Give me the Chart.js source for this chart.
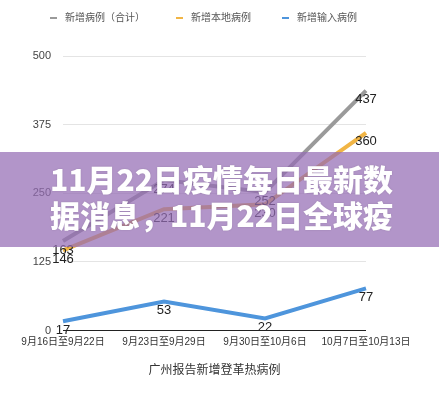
<!DOCTYPE html>
<html>
<head>
<meta charset="utf-8">
<script src="https://cdn.jsdelivr.net/npm/chart.js@4.4.1/dist/chart.umd.min.js"></script>
<style>
  html, body { margin: 0; padding: 0; background: #fff; }
  #wrap { position: relative; width: 439px; height: 400px; overflow: hidden; }
  #chart { position: absolute; left: 0; top: 0; }
  #legend { position: absolute; left: 50px; top: 11px; display: flex; gap: 31px;
    font: 10px "Helvetica Neue", Arial, "Noto Sans CJK SC", sans-serif; color: #555; line-height: 14px; }
  #legend .dash { display: inline-block; width: 7px; height: 2px; margin-right: 8px; vertical-align: middle; }
  #banner { position: absolute; left: 0; top: 152px; width: 439px; height: 95px;
    background: rgba(148, 108, 180, 0.72); box-sizing: border-box; padding: 8px 0 0 50px;
    color: #fff; font: 900 30px "Noto Sans CJK SC", sans-serif; line-height: 36px; white-space: nowrap;
    text-shadow: 0 0 2px rgba(0,0,0,0.15); }
</style>
</head>
<body>
<div id="wrap">
  <canvas id="chart" width="439" height="400"></canvas>
  <div id="legend"></div>
  <div id="banner">11月22日疫情每日最新数<br>据消息，11月22日全球疫</div>
</div>
<script>
// weekly dengue cases reported in Guangzhou
var weeks = ['9月16日至9月22日', '9月23日至9月29日', '9月30日至10月6日', '10月7日至10月13日'];
var totalCases = [163, 274, 252, 437];
var localCases = [146, 221, 230, 360];
var importedCases = [17, 53, 22, 77];
var seriesNames = ['新增病例（合计）', '新增本地病例', '新增输入病例'];
var seriesColors = ['#9a9a9a', '#f1b545', '#4e95dc'];
var yMin = 0, yMax = 500, yStep = 125;

var FONT = '"Helvetica Neue", Arial, "Noto Sans CJK SC", sans-serif';
Chart.defaults.font.family = FONT;

/* ---- value labels under each point ---- */
var valueLabels = {
	id: 'valueLabels',
	afterDatasetsDraw: function (chart) {
		var ctx = chart.ctx;
		ctx.save();
		ctx.font = '13px ' + FONT;
		ctx.fillStyle = '#222';
		ctx.textAlign = 'center';
		ctx.textBaseline = 'middle';
		chart.data.datasets.forEach(function (ds, i) {
			chart.getDatasetMeta(i).data.forEach(function (pt, j) {
				ctx.fillText(ds.data[j], pt.x, pt.y + 9);
			});
		});
		ctx.restore();
	}
};

function lineSet(label, data, color) {
	return {
		label: label,
		data: data,
		borderColor: color,
		backgroundColor: color,
		borderWidth: 4,
		pointRadius: 0,
		tension: 0,
		fill: false
	};
}

var chart = new Chart(document.getElementById('chart'), {
	type: 'line',
	data: {
		labels: weeks,
		datasets: [
			lineSet(seriesNames[0], totalCases, seriesColors[0]),
			lineSet(seriesNames[1], localCases, seriesColors[1]),
			lineSet(seriesNames[2], importedCases, seriesColors[2])
		]
	},
	options: {
		responsive: false,
		animation: false,
		layout: { padding: { top: 56, right: 73, bottom: 22, left: 0 } },
		plugins: {
			legend: { display: false },
			tooltip: { enabled: false }
		},
		scales: {
			x: {
				grid: { display: false, drawTicks: false },
				border: { display: false },
				ticks: { color: '#333', font: { size: 10 }, padding: 6, maxRotation: 0, autoSkip: false },
				title: {
					display: true,
					text: '广州报告新增登革热病例',
					color: '#333',
					font: { size: 12 },
					padding: { top: 9, bottom: 0 }
				}
			},
			y: {
				min: yMin,
				max: yMax,
				afterFit: function (scale) { scale.width = 63; },
				border: { display: false },
				grid: {
					drawTicks: false,
					color: function (c) { return c.tick.value === 0 ? '#222' : '#e4e4e4'; }
				},
				ticks: { stepSize: yStep, color: '#444', font: { size: 11 }, padding: 12 }
			}
		}
	},
	plugins: [valueLabels]
});

/* ---- legend ---- */
var legend = document.getElementById('legend');
chart.data.datasets.forEach(function (ds) {
	var item = document.createElement('div');
	item.innerHTML = '<span class="dash" style="background:' + ds.borderColor + '"></span>' + ds.label;
	legend.appendChild(item);
});
</script>
</body>
</html>
